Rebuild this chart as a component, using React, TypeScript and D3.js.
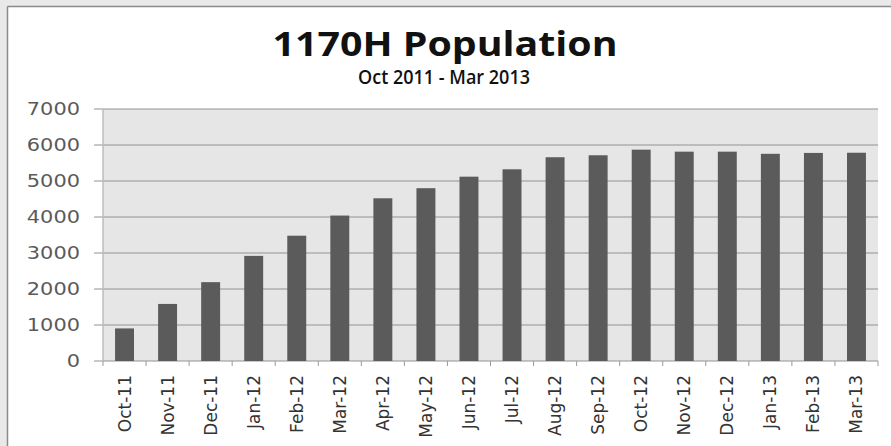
import React from "react";
import * as d3 from "d3";

const categories = ["Oct-11","Nov-11","Dec-11","Jan-12","Feb-12","Mar-12","Apr-12","May-12","Jun-12","Jul-12","Aug-12","Sep-12","Oct-12","Nov-12","Dec-12","Jan-13","Feb-13","Mar-13"];
const population = [905, 1585, 2190, 2920, 3480, 4040, 4520, 4800, 5120, 5325, 5660, 5715, 5870, 5815, 5815, 5755, 5780, 5785];
const yTicks = [0, 1000, 2000, 3000, 4000, 5000, 6000, 7000];
const title = "1170H Population";
const subtitle = "Oct 2011 - Mar 2013";

const W = 891, H = 446;
const plot = { left: 103, right: 878, top: 109, bottom: 361 };

export default function App() {
  const x = d3.scaleBand<string>().domain(categories).range([plot.left, plot.right]).paddingInner(0.56).paddingOuter(0.28);
  const y = d3.scaleLinear().domain([0, 7000]).range([plot.bottom, plot.top]);
  const step = x.step();
  const font = "'DejaVu Sans', sans-serif";
  const tfont = "'Open Sans', 'DejaVu Sans', sans-serif";
  return (
    <svg width={W} height={H} style={{ position: "absolute", left: 0, top: 0 }}>
      <rect x={0} y={0} width={W} height={H} fill="#e9e9e9" />
      <rect x={8} y={7} width={W - 8} height={H - 7} fill="#ffffff" />
      <line x1={7.5} y1={6.5} x2={7.5} y2={H} stroke="#8a8a8a" strokeWidth={1.5} />
      <line x1={7.5} y1={6.5} x2={W} y2={6.5} stroke="#8a8a8a" strokeWidth={1.5} />
      <text x={445} y={56} textAnchor="middle" fontFamily={tfont} fontWeight={700} fontSize={34} fill="#111" textLength={345} lengthAdjust="spacingAndGlyphs">{title}</text>
      <text x={444} y={84} textAnchor="middle" fontFamily={tfont} fontWeight={600} fontSize={19} fill="#111" textLength={172} lengthAdjust="spacingAndGlyphs">{subtitle}</text>
      <rect x={plot.left} y={plot.top} width={plot.right - plot.left} height={plot.bottom - plot.top} fill="#e6e6e6" />
      {yTicks.map((t) => (
        <g key={t}>
          <line x1={94} x2={plot.right} y1={y(t)} y2={y(t)} stroke="#929292" strokeWidth={1.2} />
          <text x={80} y={y(t) + 6} textAnchor="end" fontFamily={font} fontSize={17} fill="#5a5a5a" textLength={String(t).length * 13.3} lengthAdjust="spacingAndGlyphs">{t}</text>
        </g>
      ))}
      <line x1={plot.left} x2={plot.left} y1={plot.top} y2={plot.bottom} stroke="#bdbdbd" strokeWidth={1.5} />
      {categories.map((c, i) => (
        <line key={"tk" + c} x1={plot.left + i * step} x2={plot.left + i * step} y1={plot.bottom} y2={plot.bottom + 5} stroke="#9a9a9a" />
      ))}
      <line x1={plot.right} x2={plot.right} y1={plot.bottom} y2={plot.bottom + 5} stroke="#9a9a9a" />
      {categories.map((c, i) => (
        <rect key={c} x={x(c)} y={y(population[i])} width={x.bandwidth()} height={plot.bottom - y(population[i])} fill="#5b5b5b" />
      ))}
      {categories.map((c) => {
        const cx = (x(c) as number) + x.bandwidth() / 2 + 6;
        const ty = 375;
        return (
          <text key={"l" + c} transform={`translate(${cx},${ty}) rotate(-90)`} textAnchor="end" fontFamily={font} fontSize={17} fill="#333">{c}</text>
        );
      })}
    </svg>
  );
}
